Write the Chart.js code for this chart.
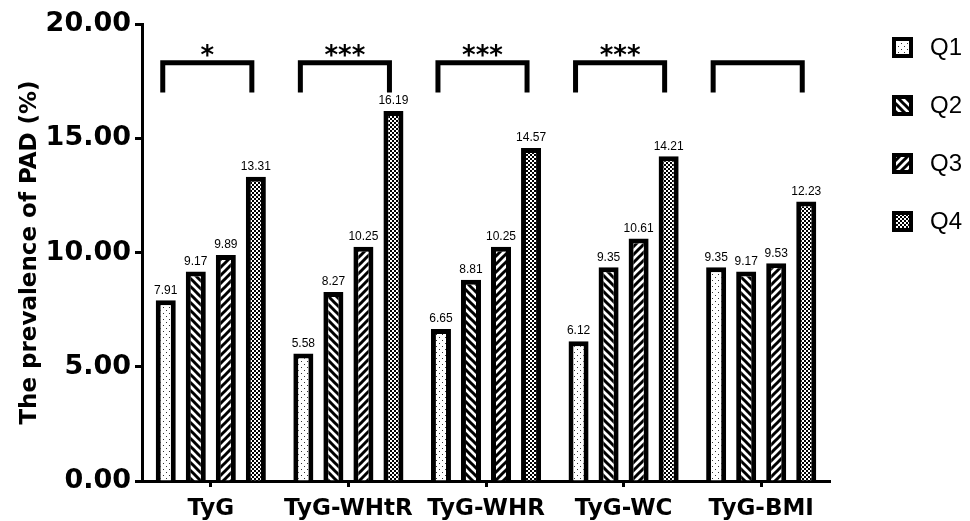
<!DOCTYPE html>
<html>
<head>
<meta charset="utf-8">
<script src="https://cdn.jsdelivr.net/npm/chart.js@4.4.1/dist/chart.umd.min.js"></script>
<style>
  html, body { margin: 0; padding: 0; background: #fff; }
  #wrap { width: 970px; height: 521px; }
</style>
</head>
<body>
<div id="wrap"><canvas id="prevalenceChart" width="970" height="521"></canvas></div>
<script>
const indices = ["TyG", "TyG-WHtR", "TyG-WHR", "TyG-WC", "TyG-BMI"];
const quartiles = ["Q1", "Q2", "Q3", "Q4"];
const q1Values = [7.91, 5.58, 6.65, 6.12, 9.35];
const q2Values = [9.17, 8.27, 8.81, 9.35, 9.17];
const q3Values = [9.89, 10.25, 10.25, 10.61, 9.53];
const q4Values = [13.31, 16.19, 14.57, 14.21, 12.23];
const significance = ["*", "***", "***", "***", ""];
const yTicks = [0, 5, 10, 15, 20];
const bracketLevel = 18.3;
const bracketLegLevel = 17.0;

// small black & white fills like the print version
function makePattern(kind) {
  const c = document.createElement("canvas");
  const g = c.getContext("2d");
  if (kind === "dots") {
    c.width = 6; c.height = 6;
    g.fillStyle = "#fff"; g.fillRect(0, 0, 6, 6);
    g.fillStyle = "#333";
    g.fillRect(1, 1, 1, 1);
    g.fillRect(4, 4, 1, 1);
  } else if (kind === "checker") {
    c.width = 4; c.height = 4;
    g.fillStyle = "#fff"; g.fillRect(0, 0, 4, 4);
    g.fillStyle = "#000";
    g.fillRect(0, 0, 2, 2);
    g.fillRect(2, 2, 2, 2);
  } else {
    c.width = 8; c.height = 8;
    g.fillStyle = "#fff"; g.fillRect(0, 0, 8, 8);
    g.strokeStyle = "#000";
    g.lineWidth = 3;
    for (const o of [-8, 0, 8]) {
      g.beginPath();
      if (kind === "back") {
        g.moveTo(o - 2, -2); g.lineTo(o + 10, 10);
      } else {
        g.moveTo(o - 2, 10); g.lineTo(o + 10, -2);
      }
      g.stroke();
    }
  }
  return g.createPattern(c, "repeat");
}

const ctx = document.getElementById("prevalenceChart").getContext("2d");
const fills = [makePattern("dots"), makePattern("back"), makePattern("forward"), makePattern("checker")];
const seriesValues = [q1Values, q2Values, q3Values, q4Values];

const annotationPlugin = {
  id: "annotations",
  afterDatasetsDraw(chart) {
    const g = chart.ctx;
    const yScale = chart.scales.y;
    g.save();
    g.fillStyle = "#000";

    // value labels
    g.font = "12px 'Liberation Sans', Arial, sans-serif";
    g.textAlign = "center";
    g.textBaseline = "bottom";
    chart.data.datasets.forEach((ds, di) => {
      chart.getDatasetMeta(di).data.forEach((bar, i) => {
        g.fillText(ds.data[i].toFixed(2), bar.x, bar.y - 4);
      });
    });

    // significance brackets Q1 vs Q4
    const topY = yScale.getPixelForValue(bracketLevel);
    const legY = yScale.getPixelForValue(bracketLegLevel);
    const first = chart.getDatasetMeta(0).data;
    const last = chart.getDatasetMeta(3).data;
    g.lineWidth = 5;
    g.strokeStyle = "#000";
    g.lineJoin = "miter";
    g.lineCap = "butt";
    g.font = "bold 26px 'DejaVu Sans'";
    g.textBaseline = "alphabetic";
    indices.forEach((_, i) => {
      const x1 = first[i].x - 3;
      const x2 = last[i].x - 4;
      g.beginPath();
      g.moveTo(x1, legY);
      g.lineTo(x1, topY);
      g.lineTo(x2, topY);
      g.lineTo(x2, legY);
      g.stroke();
      if (significance[i]) {
        g.fillText(significance[i], (x1 + x2) / 2, topY + 1);
      }
    });

    // legend on the right
    g.font = "24px 'Liberation Sans', Arial, sans-serif";
    g.textAlign = "left";
    g.textBaseline = "middle";
    g.lineWidth = 4;
    quartiles.forEach((q, i) => {
      const cy = 47 + i * 58;
      g.fillStyle = fills[i];
      g.fillRect(892, cy - 10, 21, 21);
      g.strokeRect(894, cy - 8, 17, 17);
      g.fillStyle = "#000";
      g.fillText(q, 930, cy + 1);
    });
    g.restore();
  },
};

const prevalenceChart = new Chart(ctx, {
  type: "bar",
  data: {
    labels: indices,
    datasets: quartiles.map((q, i) => ({
      label: q,
      data: seriesValues[i],
      backgroundColor: fills[i],
      borderColor: "#000",
      borderWidth: 5,
      borderSkipped: "bottom",
      categoryPercentage: 0.873,
      barPercentage: 0.667,
    })),
  },
  options: {
    responsive: false,
    animation: false,
    layout: { padding: { top: 24, right: 140, left: 0, bottom: 0 } },
    plugins: {
      legend: { display: false },
      tooltip: { enabled: false },
    },
    scales: {
      x: {
        grid: {
          display: true,
          drawOnChartArea: false,
          offset: false,
          tickLength: 6,
          tickWidth: 3,
          tickColor: "#000",
        },
        border: { color: "#000", width: 3 },
        ticks: {
          color: "#000",
          font: { family: "DejaVu Sans", weight: "bold", size: 23 },
          padding: 8,
          maxRotation: 0,
          autoSkip: false,
        },
        afterFit: (scale) => {
          scale.height = 40;
        },
      },
      y: {
        min: 0,
        max: 20,
        afterBuildTicks: (scale) => {
          scale.ticks = yTicks.map((v) => ({ value: v }));
        },
        grid: {
          drawOnChartArea: false,
          tickLength: 7,
          tickWidth: 3,
          tickColor: "#000",
        },
        border: { color: "#000", width: 3 },
        ticks: {
          color: "#000",
          font: { family: "DejaVu Sans", weight: "bold", size: 27 },
          padding: 4,
          callback: (v) => Number(v).toFixed(2),
        },
        title: {
          display: true,
          text: "The prevalence of PAD (%)",
          color: "#000",
          font: { family: "DejaVu Sans", weight: "bold", size: 23 },
          padding: { top: 16, bottom: 0 },
        },
        afterFit: (scale) => {
          scale.width = 142;
        },
      },
    },
  },
  plugins: [annotationPlugin],
});
</script>
</body>
</html>
